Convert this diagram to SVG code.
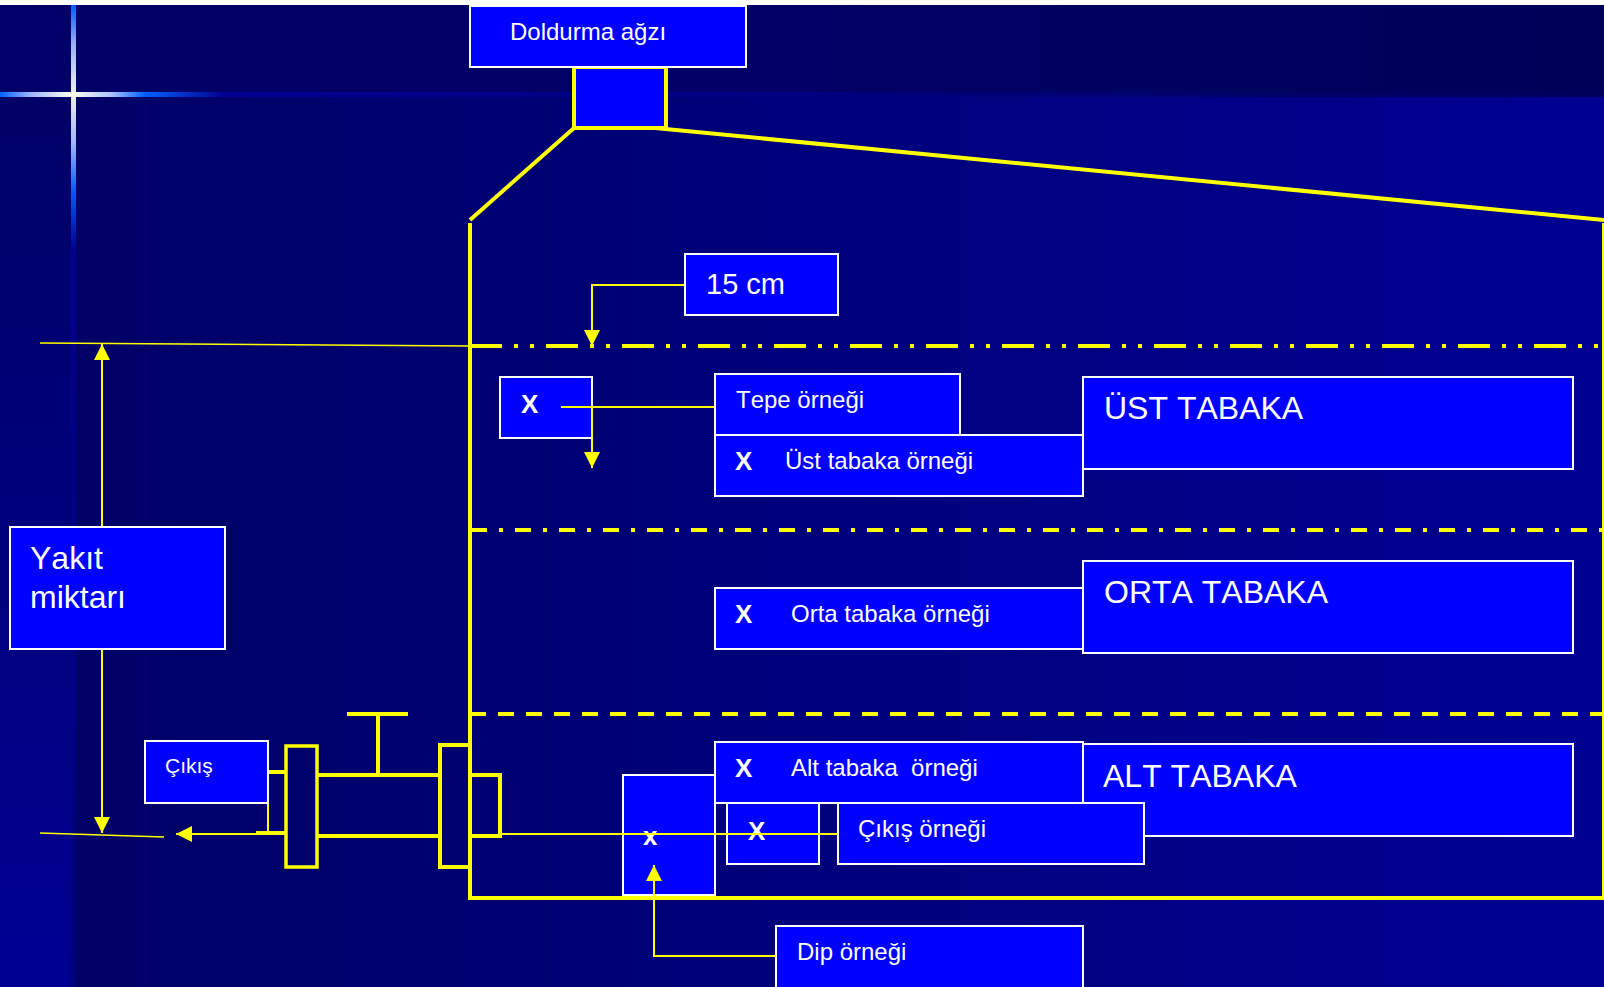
<svg xmlns="http://www.w3.org/2000/svg" width="1604" height="987" viewBox="0 0 1604 987">
<style>
.box{fill:#0000ff;stroke:#fff;stroke-width:2}
text{font-family:"Liberation Sans",Arial,sans-serif;fill:#fff;font-kerning:none;white-space:pre}
.t24{font-size:24px}.t32{font-size:32px}.b{font-size:26px;font-weight:bold}
.y{fill:none;stroke:#ffff00;stroke-linejoin:miter}
.w4{stroke-width:4}.w3{stroke-width:3.5}.w2{stroke-width:2}
</style>
<defs>
<linearGradient id="main" x1="72" x2="1604" y1="0" y2="0" gradientUnits="userSpaceOnUse"><stop offset="0" stop-color="#000066"/><stop offset="1" stop-color="#000092"/></linearGradient>
<linearGradient id="top" x1="0" x2="1604" y1="0" y2="0" gradientUnits="userSpaceOnUse"><stop offset="0" stop-color="#000068"/><stop offset="0.5" stop-color="#000066"/><stop offset="1" stop-color="#000058"/></linearGradient>
<linearGradient id="side" x1="0" x2="0" y1="97" y2="987" gradientUnits="userSpaceOnUse"><stop offset="0" stop-color="#000066"/><stop offset="1" stop-color="#000092"/></linearGradient>
<linearGradient id="hbar" x1="0" x2="1604" y1="0" y2="0" gradientUnits="userSpaceOnUse"><stop offset="0" stop-color="#0060ff"/><stop offset="0.02" stop-color="#a0b8ff"/><stop offset="0.045" stop-color="#fffff0"/><stop offset="0.07" stop-color="#a8c0ff"/><stop offset="0.09" stop-color="#0060ff"/><stop offset="0.14" stop-color="#000090"/><stop offset="0.5" stop-color="#000080"/><stop offset="1" stop-color="#00005a"/></linearGradient>
<linearGradient id="vbar" x1="0" x2="0" y1="5" y2="987" gradientUnits="userSpaceOnUse"><stop offset="0" stop-color="#0060ff"/><stop offset="0.04" stop-color="#a0b8ff"/><stop offset="0.09" stop-color="#fffff0"/><stop offset="0.14" stop-color="#a8c0ff"/><stop offset="0.19" stop-color="#0060ff"/><stop offset="0.25" stop-color="#000090"/><stop offset="1" stop-color="#00007c"/></linearGradient>
<marker id="ah" viewBox="0 0 16 16" refX="16" refY="8" markerWidth="16" markerHeight="16" markerUnits="userSpaceOnUse" orient="auto"><path d="M0 0L16 8L0 16Z" fill="#ffff00"/></marker>
</defs>
<rect id="bg-main" width="1604" height="987" fill="url(#main)"/>
<rect id="bg-side" y="97" width="72" height="890" fill="url(#side)"/>
<rect id="bg-top" y="5" width="1604" height="92" fill="url(#top)"/>
<rect id="bar-h" y="92" width="1604" height="5" fill="url(#hbar)"/>
<rect id="bar-v" x="71" y="5" width="5" height="982" fill="url(#vbar)" opacity="0.95"/>
<rect id="top-strip" width="1604" height="5" fill="#fff"/>

<g id="neck"><rect x="574" y="67" width="92" height="61" fill="#0000ff" stroke="#ffff00" stroke-width="4"/></g>

<g id="connectors">
<path class="y w4" d="M574 128L470 220"/>
<path class="y w4" d="M655 128L1604 220"/>
<path class="y w4" d="M470 223V898H1604"/>
<path class="y w2" d="M1603 223V898"/>
<path class="y w4" d="M470 346H1604" stroke-dasharray="32 12 4 12 4 12"/>
<path class="y w4" d="M471 530H1604" stroke-dasharray="16 12 4 12"/>
<path class="y w4" d="M470 714H1604" stroke-dasharray="16 12"/>
<path class="y" stroke-width="1.5" d="M40 343L470 346"/>
<path class="y" stroke-width="1.5" d="M40 833L164 837"/>
<path class="y w2" d="M685 285H592V346" marker-end="url(#ah)"/>
<path class="y w2" d="M102 527V344" marker-end="url(#ah)"/>
<path class="y w2" d="M102 650V833" marker-end="url(#ah)"/>
<path class="y w2" d="M561 407H715"/>
<path class="y w2" d="M592 407V468" marker-end="url(#ah)"/>
<path class="y w2" d="M284 834H176" marker-end="url(#ah)"/>
<path class="y w4" d="M256 833H286"/>
<path class="y w2" d="M268 803V833"/>
<path class="y w4" d="M268 772H286"/>
<path class="y w3" d="M286 746H317V867H286Z"/>
<path class="y w4" d="M317 775H439M317 836H439M378 712V775M347 714H408"/>
<path class="y w4" d="M470 745H440V867H470"/>
<path class="y w4" d="M470 775H500V836H470"/>
</g>

<g id="doldurma"><rect class="box" x="470" y="6" width="276" height="61"/><text class="t24" x="510" y="40">Doldurma ağzı</text></g>
<g id="cm15"><rect class="box" x="685" y="254" width="153" height="61"/><text x="706" y="294" font-size="29">15 cm</text></g>
<g id="x-top"><rect class="box" x="500" y="377" width="92" height="61"/><text class="b" x="521" y="413">X</text></g>
<g id="ust-tabaka"><rect class="box" x="1083" y="377" width="490" height="92"/><text class="t32" x="1104" y="419">ÜST TABAKA</text></g>
<g id="tepe"><rect class="box" x="715" y="374" width="245" height="61"/><text class="t24" x="736" y="408">Tepe örneği</text></g>
<g id="ust-ornek"><rect class="box" x="715" y="435" width="368" height="61"/><text class="b" x="735" y="470">X</text><text class="t24" x="785" y="469">Üst tabaka örneği</text></g>
<g id="orta-tabaka"><rect class="box" x="1083" y="561" width="490" height="92"/><text class="t32" x="1104" y="603">ORTA TABAKA</text></g>
<g id="orta-ornek"><rect class="box" x="715" y="588" width="368" height="61"/><text class="b" x="735" y="623">X</text><text class="t24" x="791" y="622">Orta tabaka örneği</text></g>
<g id="yakit"><rect class="box" x="10" y="527" width="215" height="122"/><text class="t32" x="30" y="569">Yakıt</text><text class="t32" x="30" y="608">miktarı</text></g>
<g id="cikis"><rect class="box" x="145" y="741" width="123" height="62"/><text x="165" y="773" font-size="21">Çıkış</text></g>
<g id="alt-tabaka"><rect class="box" x="1083" y="744" width="490" height="92"/><text class="t32" x="1103" y="787">ALT TABAKA</text></g>
<g id="x-dip"><rect class="box" x="623" y="775" width="92" height="120"/><text x="643" y="845" font-size="26" font-weight="bold">x</text></g>
<g id="alt-ornek"><rect class="box" x="715" y="742" width="368" height="61"/><text class="b" x="735" y="777">X</text><text class="t24" x="791" y="776">Alt tabaka  örneği</text></g>
<g id="x-cikis"><rect class="box" x="727" y="803" width="92" height="61"/><text class="b" x="748" y="840">X</text></g>
<g id="cikis-ornek"><rect class="box" x="838" y="803" width="306" height="61"/><text class="t24" x="858" y="837">Çıkış örneği</text></g>
<g id="dip"><rect class="box" x="776" y="926" width="307" height="70"/><text class="t24" x="797" y="960">Dip örneği</text></g>

<g id="connectors-over">
<path class="y w2" d="M500 834H838"/>
<path class="y w2" d="M776 956H654V865" marker-end="url(#ah)"/>
<path class="y w2" d="M561 407H592V438"/>
</g>
</svg>
